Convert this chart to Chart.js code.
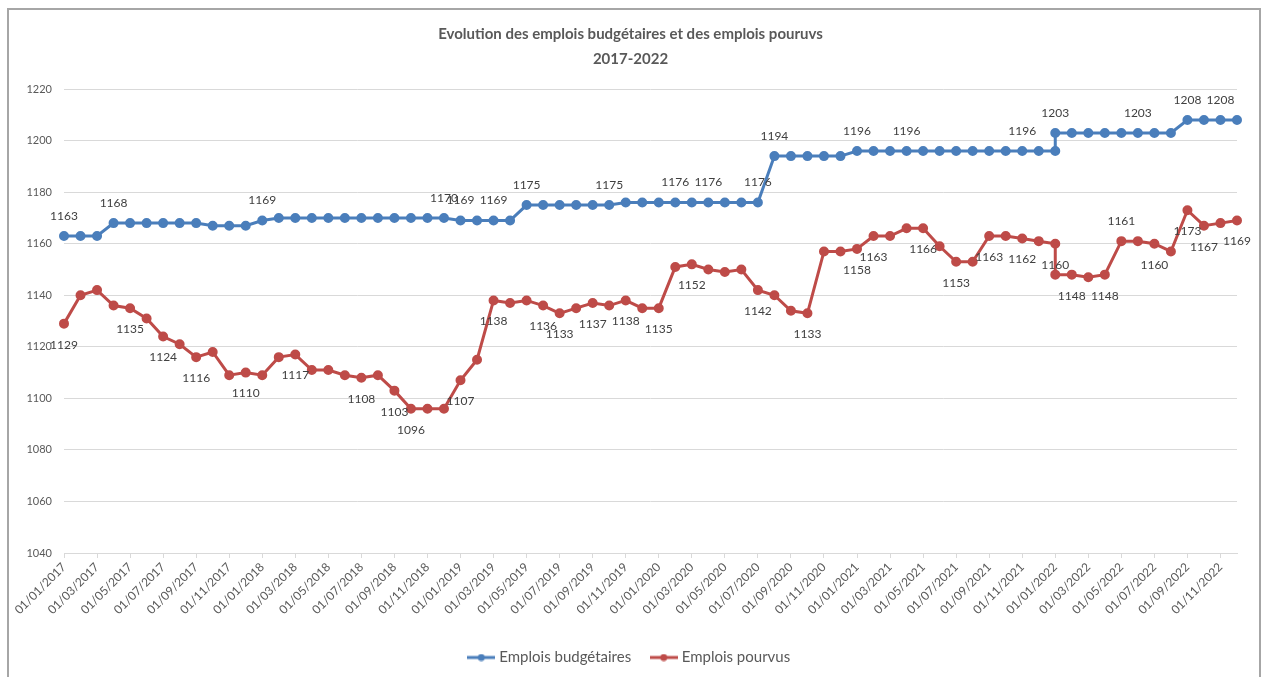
<!DOCTYPE html>
<html>
<head>
<meta charset="utf-8">
<script src="https://cdn.jsdelivr.net/npm/chart.js@4.4.1/dist/chart.umd.min.js"></script>
<style>
  html, body { margin: 0; padding: 0; background: #fff; }
  #wrap { position: relative; width: 1263px; height: 677px; overflow: hidden; }
  #frame { position: absolute; left: 7px; top: 8px; width: 1250px; height: 700px;
           border: 2px solid #a6a6a6; border-bottom: none; pointer-events: none; }
  canvas { position: absolute; left: 0; top: 0; }
</style>
</head>
<body>
<div id="wrap">
  <canvas id="myChart" width="1263" height="677"></canvas>
  <div id="frame"></div>
</div>
<script>
// one entry per point (the Jan 2022 date appears twice: two values at the same date)
const dates = [
  "01/01/2017","01/02/2017","01/03/2017","01/04/2017","01/05/2017","01/06/2017",
  "01/07/2017","01/08/2017","01/09/2017","01/10/2017","01/11/2017","01/12/2017",
  "01/01/2018","01/02/2018","01/03/2018","01/04/2018","01/05/2018","01/06/2018",
  "01/07/2018","01/08/2018","01/09/2018","01/10/2018","01/11/2018","01/12/2018",
  "01/01/2019","01/02/2019","01/03/2019","01/04/2019","01/05/2019","01/06/2019",
  "01/07/2019","01/08/2019","01/09/2019","01/10/2019","01/11/2019","01/12/2019",
  "01/01/2020","01/02/2020","01/03/2020","01/04/2020","01/05/2020","01/06/2020",
  "01/07/2020","01/08/2020","01/09/2020","01/10/2020","01/11/2020","01/12/2020",
  "01/01/2021","01/02/2021","01/03/2021","01/04/2021","01/05/2021","01/06/2021",
  "01/07/2021","01/08/2021","01/09/2021","01/10/2021","01/11/2021","01/12/2021",
  "01/01/2022","01/01/2022","01/02/2022","01/03/2022","01/04/2022","01/05/2022",
  "01/06/2022","01/07/2022","01/08/2022","01/09/2022","01/10/2022","01/11/2022",
  "01/12/2022"
];

const budgetaires = [
  1163, 1163, 1163, 1168, 1168, 1168, 1168, 1168, 1168, 1167, 1167, 1167,
  1169, 1170, 1170, 1170, 1170, 1170, 1170, 1170, 1170, 1170, 1170, 1170,
  1169, 1169, 1169, 1169, 1175, 1175, 1175, 1175, 1175, 1175, 1176, 1176,
  1176, 1176, 1176, 1176, 1176, 1176, 1176, 1194, 1194, 1194, 1194, 1194,
  1196, 1196, 1196, 1196, 1196, 1196, 1196, 1196, 1196, 1196, 1196, 1196,
  1196, 1203, 1203, 1203, 1203, 1203, 1203, 1203, 1203, 1208, 1208, 1208,
  1208
];

const pourvus = [
  1129, 1140, 1142, 1136, 1135, 1131, 1124, 1121, 1116, 1118, 1109, 1110,
  1109, 1116, 1117, 1111, 1111, 1109, 1108, 1109, 1103, 1096, 1096, 1096,
  1107, 1115, 1138, 1137, 1138, 1136, 1133, 1135, 1137, 1136, 1138, 1135,
  1135, 1151, 1152, 1150, 1149, 1150, 1142, 1140, 1134, 1133, 1157, 1157,
  1158, 1163, 1163, 1166, 1166, 1159, 1153, 1153, 1163, 1163, 1162, 1161,
  1160, 1148, 1148, 1147, 1148, 1161, 1161, 1160, 1157, 1173, 1167, 1168,
  1169
];

// which points carry a value label (positions in the arrays above)
const budgetairesLabelled = [0, 3, 12, 23, 24, 26, 28, 33, 37, 39, 42, 43, 48, 51, 58, 61, 66, 69, 71];
const pourvusLabelled = [0, 4, 6, 8, 11, 14, 18, 20, 21, 24, 26, 29, 30, 32, 34, 36, 38, 42, 45, 48, 49,
  52, 54, 56, 58, 60, 62, 64, 65, 67, 69, 70, 72];
const pourvusLabelAbove = [65];

const monthIndex = (d) => {
  const p = d.split("/");
  return (parseInt(p[2]) - 2017) * 12 + parseInt(p[1]) - 1;
};
const tickText = {};
dates.forEach((d) => { tickText[monthIndex(d)] = d; });

const toPoints = (arr) => arr.map((v, i) => ({ x: monthIndex(dates[i]), y: v }));

const BLUE = "#4a7ebb";
const RED = "#be4b48";

const legendIcon = (color) => {
  const c = document.createElement("canvas");
  c.width = 28; c.height = 8;
  const g = c.getContext("2d");
  g.strokeStyle = color; g.lineWidth = 3;
  g.beginPath(); g.moveTo(0, 4); g.lineTo(28, 4); g.stroke();
  g.fillStyle = color;
  g.beginPath(); g.arc(14, 4, 3.5, 0, Math.PI * 2); g.fill();
  return c;
};

const valueLabels = {
  id: "valueLabels",
  afterDatasetsDraw(chart) {
    const ctx = chart.ctx;
    ctx.save();
    ctx.font = "12px Lato";
    ctx.fillStyle = "#404040";
    ctx.textAlign = "center";
    ctx.textBaseline = "middle";
    chart.data.datasets.forEach((ds, di) => {
      const meta = chart.getDatasetMeta(di);
      ds.labelled.forEach((i) => {
        const pt = meta.data[i];
        const up = ds.above === true || (ds.above || []).includes(i);
        ctx.fillText(String(ds.data[i].y), pt.x, pt.y + (up ? -20 : 21));
      });
    });
    ctx.restore();
  },
};

const data = {
  datasets: [
    {
      label: "Emplois budgétaires",
      data: toPoints(budgetaires),
      labelled: budgetairesLabelled,
      above: true,
      borderColor: BLUE,
      backgroundColor: BLUE,
      borderWidth: 3,
      pointRadius: 3.5,
      pointHoverRadius: 3.5,
      tension: 0,
      clip: false,
    },
    {
      label: "Emplois pourvus",
      data: toPoints(pourvus),
      labelled: pourvusLabelled,
      above: pourvusLabelAbove,
      borderColor: RED,
      backgroundColor: RED,
      borderWidth: 3,
      pointRadius: 3.5,
      pointHoverRadius: 3.5,
      tension: 0,
      clip: false,
    },
  ],
};

const config = {
  type: "line",
  data: data,
  plugins: [valueLabels],
  options: {
    responsive: false,
    animation: false,
    layout: { padding: { left: 24, right: 26, top: 0, bottom: 2 } },
    plugins: {
      title: {
        display: true,
        text: ["Evolution des emplois budgétaires et des emplois pouruvs", "2017-2022"],
        color: "#595959",
        font: { family: "Lato", size: 15, weight: "bold", lineHeight: 1.67 },
        padding: { top: 22, bottom: 17 },
      },
      legend: {
        position: "bottom",
        labels: {
          color: "#595959",
          font: { family: "Lato", size: 15 },
          usePointStyle: true,
          pointStyleWidth: 21,
          padding: 22,
          generateLabels: (chart) => {
            const items = Chart.defaults.plugins.legend.labels.generateLabels(chart);
            items.forEach((it, i) => {
              it.pointStyle = legendIcon(chart.data.datasets[i].borderColor);
            });
            return items;
          },
        },
      },
      tooltip: { enabled: false },
    },
    scales: {
      x: {
        type: "linear",
        min: 0,
        max: 71,
        afterFit: (s) => { s.height = 75; },
        afterBuildTicks: (s) => {
          const t = [];
          for (let v = 0; v <= 70; v += 2) t.push({ value: v });
          s.ticks = t;
        },
        ticks: {
          color: "#595959",
          font: { family: "Lato", size: 12 },
          minRotation: 45,
          maxRotation: 45,
          autoSkip: false,
          padding: 2,
          callback: (v) => tickText[v] || "",
        },
        grid: { drawOnChartArea: false, color: "#d9d9d9", tickLength: 5 },
        border: { color: "#d9d9d9" },
      },
      y: {
        min: 1040,
        max: 1220,
        afterFit: (s) => { s.width = 40; },
        ticks: {
          stepSize: 20,
          color: "#595959",
          font: { family: "Lato", size: 11 },
          padding: 12,
          callback: (v) => String(v),
        },
        grid: { color: "#d9d9d9", drawTicks: false },
        border: { display: false },
      },
    },
  },
};

new Chart(document.getElementById("myChart"), config);
</script>
</body>
</html>
